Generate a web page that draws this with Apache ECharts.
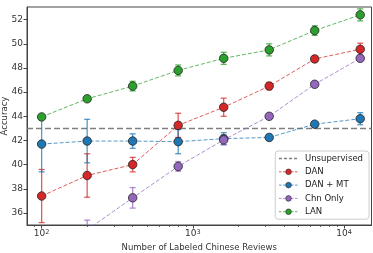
<!DOCTYPE html>
<html>
<head>
<meta charset="utf-8">
<script src="https://cdn.jsdelivr.net/npm/echarts@6/dist/echarts.min.js"></script>
<style>
html, body { margin: 0; padding: 0; background: #fff; }
#chart { width: 373px; height: 253px; }
</style>
</head>
<body>
<div id="chart"></div>
<script>
const reviewCounts = [100, 200, 400, 800, 1600, 3200, 6400, 12800];

const danAcc = [37.4, 39.1, 40.0, 43.25, 44.75, 46.5, 48.75, 49.55];
const danErr = [2.2, 1.8, 0.6, 1.0, 0.75, 0.3, 0.25, 0.5];
const danMtAcc = [41.7, 41.95, 41.95, 41.9, 42.15, 42.25, 43.35, 43.8];
const danMtErr = [2.3, 1.8, 0.6, 1.0, 0.5, 0.25, 0.2, 0.5];
const chnOnlyAcc = [null, 34.6, 37.25, 39.85, 42.05, 44.0, 46.65, 48.8];
const chnOnlyErr = [null, 0.8, 0.85, 0.4, 0.4, 0.2, 0.2, 0.2];
const lanAcc = [43.95, 45.45, 46.5, 47.8, 48.8, 49.5, 51.1, 52.4];
const lanErr = [0.15, 0.1, 0.4, 0.45, 0.5, 0.5, 0.4, 0.5];
const unsupervisedAcc = 43.0;

const xMajorTicks = [100, 1000, 10000];
const xMinorTicks = [90, 200, 300, 400, 500, 600, 700, 800, 900,
    2000, 3000, 4000, 5000, 6000, 7000, 8000, 9000];
const yTicks = [36, 38, 40, 42, 44, 46, 48, 50, 52];

const X_MIN = 80, X_MAX = 15200;
const Y_MIN = 35, Y_MAX = 53.05;

const colors = {
    dan: "#d62728",
    mt: "#1f77b4",
    chn: "#9467bd",
    lan: "#2ca02c",
    unsup: "#7f7f7f",
};

const chart = echarts.init(document.getElementById("chart"), null, { renderer: "canvas" });

function pairs(vals) {
    return reviewCounts.map((x, i) => [x, vals[i]]).filter(p => p[1] != null);
}

function errRows(vals, errs) {
    return reviewCounts
        .map((x, i) => vals[i] == null ? null : [x, vals[i] - errs[i], vals[i] + errs[i]])
        .filter(r => r);
}

function errorSeries(name, vals, errs, color) {
    return {
        name: name + " err",
        type: "custom",
        z: 2,
        data: errRows(vals, errs),
        renderItem: (params, api) => {
            const cs = params.coordSys;
            const lo = api.coord([api.value(0), api.value(1)]);
            const hi = api.coord([api.value(0), api.value(2)]);
            const top = cs.y, bottom = cs.y + cs.height;
            const y1 = Math.min(lo[1], bottom), y2 = Math.max(hi[1], top);
            const style = { stroke: color, lineWidth: 1.3, opacity: 0.75 };
            const w = 3;
            const kids = [{ type: "line", shape: { x1: lo[0], y1: y1, x2: hi[0], y2: y2 }, style }];
            if (lo[1] <= bottom) kids.push({ type: "line", shape: { x1: lo[0] - w, y1: lo[1], x2: lo[0] + w, y2: lo[1] }, style });
            if (hi[1] >= top) kids.push({ type: "line", shape: { x1: hi[0] - w, y1: hi[1], x2: hi[0] + w, y2: hi[1] }, style });
            return { type: "group", children: kids };
        },
    };
}

function lineSeries(name, vals, color) {
    return {
        name: name,
        type: "line",
        z: 3,
        data: pairs(vals),
        symbol: "circle",
        symbolSize: 8.5,
        itemStyle: { color: color, borderColor: "#222", borderWidth: 0.8 },
        lineStyle: { color: color, width: 1, type: [4, 2], opacity: 0.75 },
        emphasis: { disabled: true },
    };
}

function legendItem(name, color) {
    return {
        name: name,
        itemStyle: { color: color, borderColor: "#222", borderWidth: 0.6 },
        lineStyle: { color: color, width: 1, type: [2.5, 1.5], opacity: 0.75 },
    };
}

const axisFont = { fontFamily: "DejaVu Sans", color: "#333" };

const option = {
    animation: false,
    textStyle: { fontFamily: "DejaVu Sans" },
    grid: {
        left: 27, top: 7, right: 1.5, bottom: 28,
        outerBoundsMode: "none",
        containLabel: false,
        show: true, borderColor: "#444", borderWidth: 1,
    },
    xAxis: [{
        type: "log",
        logBase: 10,
        min: X_MIN,
        max: X_MAX,
        position: "bottom",
        name: "Number of Labeled Chinese Reviews",
        nameLocation: "middle",
        nameGap: 18,
        nameMoveOverlap: false,
        nameTextStyle: { ...axisFont, fontSize: 8.5 },
        axisLine: { show: true, lineStyle: { color: "#444", width: 1 } },
        axisTick: { show: true, length: 3.5, customValues: xMajorTicks, lineStyle: { color: "#444" } },
        axisLabel: {
            ...axisFont,
            fontSize: 9,
            margin: 4,
            customValues: xMajorTicks,
            formatter: v => "10{sup|" + Math.round(Math.log10(v)) + "}",
            rich: { sup: { fontSize: 6.5, verticalAlign: "top", fontFamily: "DejaVu Sans", color: "#333" } },
        },
        splitLine: { show: false },
    }, {
        type: "log",
        logBase: 10,
        min: X_MIN,
        max: X_MAX,
        position: "bottom",
        axisLine: { show: false },
        axisTick: { show: true, length: 2, customValues: xMinorTicks, lineStyle: { color: "#444", width: 0.8 } },
        axisLabel: { show: false },
        splitLine: { show: false },
    }],
    yAxis: {
        type: "value",
        min: Y_MIN,
        max: Y_MAX,
        name: "Accuracy",
        nameLocation: "middle",
        nameGap: 18,
        nameMoveOverlap: false,
        nameTextStyle: { ...axisFont, fontSize: 8.5 },
        axisLine: { show: true, lineStyle: { color: "#444", width: 1 } },
        axisTick: { show: true, length: 3.5, customValues: yTicks, lineStyle: { color: "#444" } },
        axisLabel: { ...axisFont, fontSize: 9, margin: 4, customValues: yTicks },
        splitLine: { show: false },
    },
    legend: {
        orient: "vertical",
        right: 4,
        top: 151,
        data: [
            {
                name: "Unsupervised",
                itemStyle: { color: "rgba(0,0,0,0)", borderWidth: 0 },
                lineStyle: { color: colors.unsup, width: 1.5, type: [3, 2] },
            },
            legendItem("DAN", colors.dan),
            legendItem("DAN + MT", colors.mt),
            legendItem("Chn Only", colors.chn),
            legendItem("LAN", colors.lan),
        ],
        itemWidth: 19,
        itemHeight: 7,
        itemGap: 4.3,
        padding: [3, 6, 3, 3],
        borderColor: "#ccc",
        borderWidth: 1,
        borderRadius: 3,
        backgroundColor: "rgba(255,255,255,0.85)",
        textStyle: { fontFamily: "DejaVu Sans", fontSize: 8.5, color: "#222", padding: [0, 0, 0, 2] },
    },
    series: [
        {
            name: "Unsupervised",
            type: "line",
            z: 1,
            data: [[X_MIN, unsupervisedAcc], [X_MAX, unsupervisedAcc]],
            symbol: "none",
            lineStyle: { color: colors.unsup, width: 1.5, type: [6, 3] },
            itemStyle: { color: colors.unsup },
            emphasis: { disabled: true },
        },
        errorSeries("DAN", danAcc, danErr, colors.dan),
        errorSeries("DAN + MT", danMtAcc, danMtErr, colors.mt),
        errorSeries("Chn Only", chnOnlyAcc, chnOnlyErr, colors.chn),
        errorSeries("LAN", lanAcc, lanErr, colors.lan),
        lineSeries("DAN", danAcc, colors.dan),
        lineSeries("DAN + MT", danMtAcc, colors.mt),
        lineSeries("Chn Only", chnOnlyAcc, colors.chn),
        lineSeries("LAN", lanAcc, colors.lan),
    ],
};

chart.setOption(option);
</script>
</body>
</html>
